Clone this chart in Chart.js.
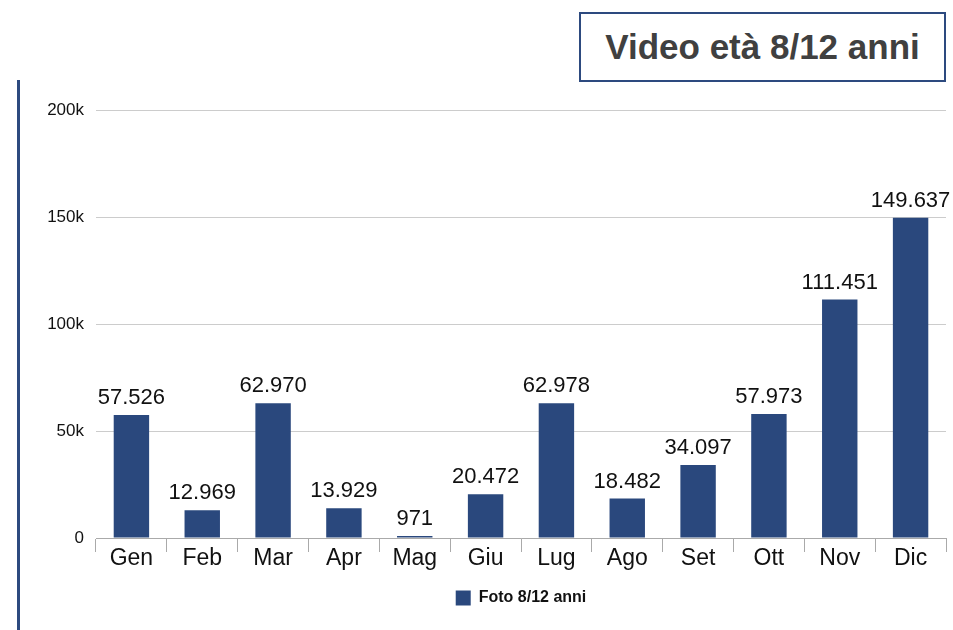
<!DOCTYPE html>
<html>
  <head>
    <title>Video età 8/12 anni</title>
    <script src="https://cdn.jsdelivr.net/npm/chart.js"></script>
    <style>
      body {
        margin: 0;
        font-family: "Liberation Sans", Arial, sans-serif;
        background: #fff;
      }

      .wrap {
        position: relative;
        width: 953px;
        height: 630px;
      }

      .side-line {
        position: absolute;
        left: 17px;
        top: 80px;
        width: 3px;
        height: 550px;
        background: #2d4a7f;
      }

      .title-box {
        position: absolute;
        left: 579px;
        top: 12px;
        width: 363px;
        height: 66px;
        border: 2px solid #2d4a7f;
        box-sizing: content-box;
        color: #404040;
        font-weight: bold;
        font-size: 35px;
        line-height: 66px;
        text-align: center;
      }

      canvas {
        position: absolute;
        left: 0;
        top: 0;
      }
    </style>
  </head>
  <body>
    <div class="wrap">
      <div class="side-line"></div>
      <div class="title-box">Video età 8/12 anni</div>
      <canvas id="barGraph" width="953" height="630"></canvas>
    </div>
    <script>
      const months = ["Gen", "Feb", "Mar", "Apr", "Mag", "Giu", "Lug", "Ago", "Set", "Ott", "Nov", "Dic"];
      const views = [57526, 12969, 62970, 13929, 971, 20472, 62978, 18482, 34097, 57973, 111451, 149637];
      const yTicks = [0, 50000, 100000, 150000, 200000];

      function withDots(v) {
        return String(v).replace(/\B(?=(\d{3})+(?!\d))/g, ".");
      }

      // numbers above bars
      const valueLabels = {
        id: "valueLabels",
        afterDatasetsDraw(chart) {
          const ctx = chart.ctx;
          const meta = chart.getDatasetMeta(0);
          ctx.save();
          ctx.font = "22px 'Liberation Sans', Arial, sans-serif";
          ctx.fillStyle = "#111";
          ctx.textAlign = "center";
          ctx.textBaseline = "bottom";
          meta.data.forEach(function (bar, i) {
            ctx.fillText(withDots(views[i]), bar.x, bar.y - 6);
          });
          ctx.restore();
        },
      };

      // center the legend under the plot area, not the whole canvas
      const legendUnderPlot = {
        id: "legendUnderPlot",
        afterLayout(chart) {
          if (chart.legend) {
            chart.legend.left = chart.chartArea.left;
            chart.legend.right = chart.chartArea.right;
          }
        },
      };

      const data = {
        labels: months,
        datasets: [
          {
            label: "Foto 8/12 anni",
            data: views,
            backgroundColor: "#2a487d",
            barPercentage: 0.5,
            categoryPercentage: 1,
          },
        ],
      };

      const config = {
        type: "bar",
        data: data,
        plugins: [valueLabels, legendUnderPlot],
        options: {
          responsive: false,
          animation: false,
          layout: {
            padding: { left: 0, right: 7, top: 110, bottom: 14 },
          },
          plugins: {
            tooltip: { enabled: false },
            legend: {
              position: "bottom",
              labels: {
                boxWidth: 15,
                boxHeight: 15,
                color: "#111",
                font: { family: "'Liberation Sans', Arial, sans-serif", size: 16, weight: "bold" },
              },
            },
          },
          scales: {
            y: {
              min: 0,
              max: 200000,
              afterFit: function (scale) {
                scale.width = 96;
              },
              afterBuildTicks: function (scale) {
                scale.ticks = yTicks.map(function (v) {
                  return { value: v };
                });
              },
              border: { display: false },
              grid: { color: "#cccccc", tickLength: 0 },
              ticks: {
                padding: 12,
                color: "#111",
                font: { family: "'Liberation Sans', Arial, sans-serif", size: 17 },
                callback: function (v) {
                  return v === 0 ? "0" : v / 1000 + "k";
                },
              },
            },
            x: {
              afterFit: function (scale) {
                scale.height = 42;
              },
              border: { display: true, color: "#aaaaaa", width: 1 },
              grid: {
                offset: true,
                drawOnChartArea: false,
                color: "#aaaaaa",
                tickLength: 14,
              },
              ticks: {
                padding: -7,
                color: "#111",
                font: { family: "'Liberation Sans', Arial, sans-serif", size: 23 },
              },
            },
          },
        },
      };

      new Chart(document.getElementById("barGraph"), config);
    </script>
  </body>
</html>
